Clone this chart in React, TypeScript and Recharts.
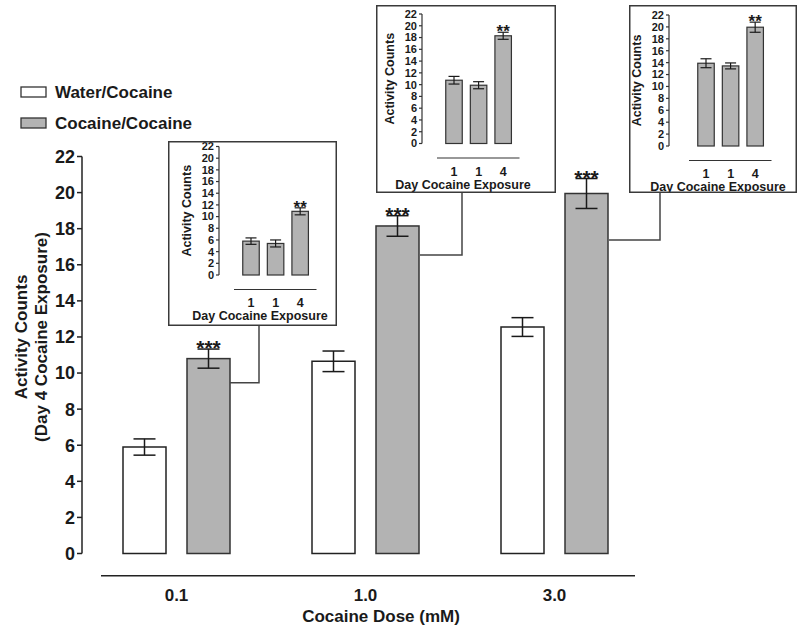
import React from 'react';
import { BarChart, Bar, XAxis, YAxis, ErrorBar } from 'recharts';

// ---------- data ----------
const doses = ['0.1', '1.0', '3.0'];
const waterMeans = [5.9, 10.65, 12.55];
const waterErrs = [0.45, 0.57, 0.52];
const cocaineMeans = [10.8, 18.15, 19.95];
const cocaineErrs = [0.53, 0.57, 0.83];
const mainSig = ['***', '***', '***'];
const yTicks = [0, 2, 4, 6, 8, 10, 12, 14, 16, 18, 20, 22];
const seriesNames = ['Water/Cocaine', 'Cocaine/Cocaine'];
const xTitle = 'Cocaine Dose (mM)';
const yTitle1 = 'Activity Counts';
const yTitle2 = '(Day 4 Cocaine Exposure)';

const insetDays = ['1', '1', '4'];
const insetSig = ['', '', '**'];
const inset01Means = [5.8, 5.4, 10.9];
const inset01Errs = [0.55, 0.6, 0.6];
const inset10Means = [10.75, 9.9, 18.3];
const inset10Errs = [0.65, 0.6, 0.6];
const inset30Means = [13.9, 13.45, 19.95];
const inset30Errs = [0.75, 0.5, 0.85];
const insetYTitle = 'Activity Counts';
const insetXTitle = 'Day Cocaine Exposure';

const mainData = doses.map((d, i) => ({
  dose: d,
  water: waterMeans[i],
  waterErr: waterErrs[i],
  cocaine: cocaineMeans[i],
  cocaineErr: cocaineErrs[i],
  sig: mainSig[i],
}));

const FONT = '"Liberation Sans", Arial, Helvetica, sans-serif';
const GRAY = '#b3b3b3';
const INK = '#1a1a1a';

// ---------- shapes ----------
function SigBarShape(props: any) {
  const { x, y, width, height, fill, stroke, strokeWidth, payload, valueKey, errKey, fontSize } = props;
  const v = payload[valueKey];
  const ppu = v ? height / v : 0;
  const errTop = y - payload[errKey] * ppu;
  return (
    <g>
      <rect x={x} y={y} width={width} height={height} fill={fill} stroke={stroke} strokeWidth={strokeWidth} />
      {payload.sig ? (
        <text x={x + width / 2} y={errTop + fontSize * 0.29} textAnchor="middle" fontSize={fontSize} fontWeight="bold" fill={INK} fontFamily={FONT}>
          {payload.sig}
        </text>
      ) : null}
    </g>
  );
}

function MainXTick(props: any) {
  const { x, y, payload } = props;
  return (
    <text x={x} y={y + 47} textAnchor="middle" fontSize={17} fontWeight="bold" fill={INK} fontFamily={FONT}>
      {payload.value}
    </text>
  );
}

function InsetXTick(props: any) {
  const { x, y, payload } = props;
  return (
    <text x={x} y={y + 32} textAnchor="middle" fontSize={12.5} fontWeight="bold" fill={INK} fontFamily={FONT}>
      {payload.value}
    </text>
  );
}

// ---------- inset ----------
function Inset(p: {
  left: number; top: number; width: number; height: number;
  axisX: number; yTop: number; yZero: number; shift: number; means: number[]; errs: number[];
}) {
  const { left, top, width, height, axisX, yTop, yZero, shift, means, errs } = p;
  const data = insetDays.map((d, i) => ({ day: d, v: means[i], e: errs[i], sig: insetSig[i] }));
  const plotRight = axisX + 97.5 + shift;
  return (
    <div style={{ position: 'absolute', left, top, width, height, background: '#fff' }}>
      <BarChart width={width} height={height} data={data} margin={{ top: yTop, right: width - plotRight, bottom: 0, left: 0 }} barSize={16.5}>
        <XAxis dataKey="day" height={height - yZero} padding={{ left: 19.75 + shift, right: 4 }} axisLine={false} tickLine={false}
          tickSize={0} tickMargin={0} interval={0} tick={<InsetXTick />} />
        <YAxis domain={[0, 22]} ticks={yTicks} interval={0} width={axisX} tickSize={3} tickMargin={2}
          tick={{ fontSize: 11, fontWeight: 'bold', fill: INK, fontFamily: FONT }}
          axisLine={{ stroke: '#333', strokeWidth: 1.2 }} tickLine={{ stroke: '#333', strokeWidth: 1.2 }} />
        <Bar dataKey="v" fill={GRAY} stroke="#333" strokeWidth={1.2} isAnimationActive={false}
          shape={(sp: any) => <SigBarShape {...sp} valueKey="v" errKey="e" fontSize={17} />}>
          <ErrorBar dataKey="e" width={5.5} stroke={INK} strokeWidth={1.2} isAnimationActive={false} />
        </Bar>
      </BarChart>
      <svg width={width} height={height} style={{ position: 'absolute', left: 0, top: 0, pointerEvents: 'none' }}>
        <line x1={axisX + 15 + shift} x2={axisX + 97.5 + shift} y1={yZero + 14.5} y2={yZero + 14.5} stroke="#333" strokeWidth={1.2} />
        <text x={axisX - 32} y={(yTop + yZero) / 2} transform={`rotate(-90, ${axisX - 32}, ${(yTop + yZero) / 2})`}
          textAnchor="middle" dy="0.35em" fontSize={12.5} fontWeight="bold" fill={INK} fontFamily={FONT}>{insetYTitle}</text>
        <text x={axisX + 41 + shift * 1.6} y={yZero + 45.4} textAnchor="middle" fontSize={12.5} fontWeight="bold" fill={INK} fontFamily={FONT}>{insetXTitle}</text>
        <rect x={0.75} y={0.75} width={width - 1.5} height={height - 1.5} fill="none" stroke="#3a3a3a" strokeWidth={1.5} />
      </svg>
    </div>
  );
}

// ---------- app ----------
export default function App() {
  return (
    <div style={{ position: 'absolute', left: 0, top: 0, width: 800, height: 627, background: '#fff', fontFamily: FONT, overflow: 'hidden' }}>
      <BarChart width={800} height={627} data={mainData} margin={{ top: 156.5, right: 151, bottom: 0, left: 0 }} barSize={43} barGap={21}>
        <XAxis dataKey="dose" height={73.5} axisLine={false} tickLine={false} tickSize={0} tickMargin={0} interval={0} tick={<MainXTick />} />
        <YAxis domain={[0, 22]} ticks={yTicks} interval={0} width={82} tickSize={5} tickMargin={2}
          tick={{ fontSize: 18, fontWeight: 'bold', fill: INK, fontFamily: FONT }}
          axisLine={{ stroke: '#222', strokeWidth: 1.5 }} tickLine={{ stroke: '#222', strokeWidth: 1.5 }} />
        <Bar dataKey="water" name={seriesNames[0]} fill="#fff" stroke="#222" strokeWidth={1.5} isAnimationActive={false}>
          <ErrorBar dataKey="waterErr" width={11} stroke={INK} strokeWidth={1.5} isAnimationActive={false} />
        </Bar>
        <Bar dataKey="cocaine" name={seriesNames[1]} fill={GRAY} stroke="#333" strokeWidth={1.5} isAnimationActive={false}
          shape={(sp: any) => <SigBarShape {...sp} valueKey="cocaine" errKey="cocaineErr" fontSize={21} />}>
          <ErrorBar dataKey="cocaineErr" width={11} stroke={INK} strokeWidth={1.5} isAnimationActive={false} />
        </Bar>
      </BarChart>

      <svg width={800} height={627} style={{ position: 'absolute', left: 0, top: 0, pointerEvents: 'none' }}>
        {/* x axis rule */}
        <line x1={101} x2={635} y1={575.7} y2={575.7} stroke="#222" strokeWidth={1.5} />
        <text x={381} y={622} textAnchor="middle" fontSize={17} fontWeight="bold" fill={INK}>{xTitle}</text>
        {/* y title */}
        <text x={21} y={337} transform="rotate(-90, 21, 337)" textAnchor="middle" dy="0.35em" fontSize={17} fontWeight="bold" fill={INK}>{yTitle1}</text>
        <text x={41} y={337} transform="rotate(-90, 41, 337)" textAnchor="middle" dy="0.35em" fontSize={17} fontWeight="bold" fill={INK}>{yTitle2}</text>
        {/* legend */}
        <rect x={21} y={87} width={25} height={10} fill="#fff" stroke="#333" strokeWidth={1.3} />
        <text x={55} y={98} fontSize={17} fontWeight="bold" fill={INK}>{seriesNames[0]}</text>
        <rect x={21} y={118} width={25} height={10} fill={GRAY} stroke="#333" strokeWidth={1.3} />
        <text x={55} y={129} fontSize={17} fontWeight="bold" fill={INK}>{seriesNames[1]}</text>
        {/* connectors */}
        <polyline points="259,326 259,382.7 230,382.7" fill="none" stroke="#444" strokeWidth={1.5} />
        <polyline points="462,193 462,255 420,255" fill="none" stroke="#444" strokeWidth={1.5} />
        <polyline points="660,193 660,240 609,240" fill="none" stroke="#444" strokeWidth={1.5} />
      </svg>

      <Inset left={168} top={141} width={169} height={185} axisX={51} yTop={5.5} yZero={134} shift={0} means={inset01Means} errs={inset01Errs} />
      <Inset left={376} top={5} width={180} height={188} axisX={46} yTop={9} yZero={138.5} shift={0} means={inset10Means} errs={inset10Errs} />
      <Inset left={629} top={5} width={168} height={188} axisX={40} yTop={10} yZero={141} shift={5} means={inset30Means} errs={inset30Errs} />
    </div>
  );
}
